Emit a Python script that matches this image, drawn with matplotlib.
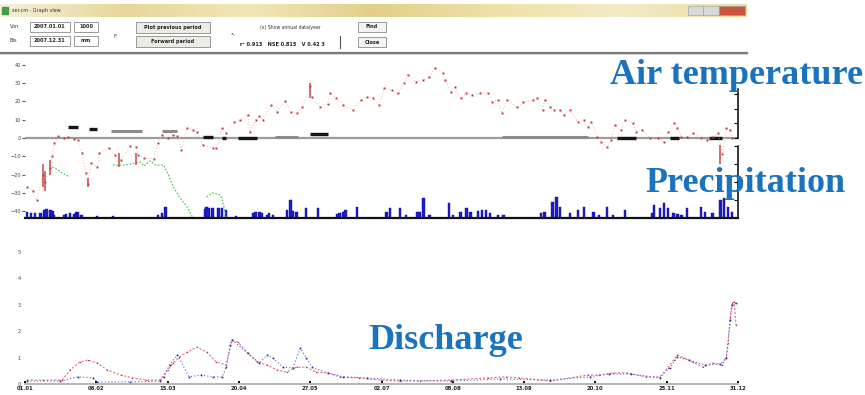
import matplotlib
matplotlib.use("Agg")
import matplotlib.pyplot as plt
import numpy as np
from matplotlib.patches import Rectangle
from matplotlib.colors import LinearSegmentedColormap

nan = np.nan

# air temperature (day of year, degC)
temp_day = [1, 4, 6, 9, 10, 13, 14, 15, 17, 20,
            22, 25, 27, 29, 31, 32, 34, 37, 38, 43,
            46, 49, 54, 57, 58, 61, 66, 68, 70, 73,
            76, 78, 80, 83, 86, 88, 91, 96, 98, 101,
            103, 107, 110, 114, 115, 118, 120, 122, 126, 129,
            133, 136, 139, 142, 146, 147, 151, 155, 156, 159,
            163, 168, 172, 175, 178, 181, 184, 188, 191, 194,
            196, 200, 204, 207, 210, 214, 215, 218, 220, 223,
            226, 229, 233, 237, 239, 242, 244, 247, 252, 255,
            260, 262, 265, 266, 269, 271, 274, 276, 279, 283,
            286, 288, 290, 293, 295, 298, 300, 302, 305, 307,
            311, 313, 316, 320, 324, 327, 329, 332, 334, 336,
            339, 342, 346, 349, 352, 355, 357, 359, 361, 362]
temp_c = [-26.8, -29.0, -33.9, -20.2, -24.0, -16.4, -9.8, -2.7, 1.1, 0.0,
          0.5, -0.5, -1.1, -8.2, -19.1, -25.1, -13.7, -15.8, -8.2, -5.5,
          -9.3, -12.0, -4.4, -4.9, -9.3, -10.9, -11.5, -2.7, 1.6, 0.0,
          1.6, 1.1, -6.6, 5.5, 4.4, 3.3, -3.8, -5.5, -5.5, 5.5,
          2.7, 8.7, 9.8, 12.6, 3.3, 9.8, 12.0, 9.8, 18.0, 14.2,
          20.2, 14.2, 13.7, 16.9, 28.4, 22.4, 16.9, 18.6, 24.6, 21.9,
          18.0, 15.3, 20.8, 22.4, 21.9, 18.0, 27.3, 26.2, 24.6, 30.1,
          34.4, 30.6, 31.7, 33.3, 38.3, 35.5, 31.7, 25.1, 27.9, 21.9,
          24.6, 23.5, 24.6, 24.6, 19.7, 20.8, 13.7, 20.8, 16.9, 19.7,
          20.8, 21.9, 15.3, 20.8, 16.9, 15.3, 15.3, 12.6, 15.3, 8.7,
          9.8, 6.0, 8.7, 0.5, -2.2, -4.9, -1.1, 7.1, 4.4, 9.8,
          8.2, 3.3, 4.4, 0.0, 0.0, -2.2, 3.3, 8.2, 5.5, 0.5,
          0.5, 2.7, 0.0, -1.1, 0.5, 2.7, -8.7, 5.5, 4.4, 0.0]

# daily ranges shown as short red bars in winter
range_day = [9, 10, 13, 32, 48, 57, 146, 356]
range_lo = [-27.0, -29.0, -20.0, -27.0, -16.0, -15.0, 22.0, -14.0]
range_hi = [-14.0, -18.0, -12.0, -22.0, -8.0, -8.0, 30.0, -4.0]

# black / grey segments lying on the temperature panel
dark_start = [22, 33, 91, 101, 109, 146, 303, 330, 350]
dark_end = [27, 37, 96, 103, 119, 155, 313, 335, 357]
dark_level = [6.0, 4.9, 0.5, 0.0, 0.0, 2.2, 0.0, 0.0, 0.0]
light_start = [44, 70, 128, 244]
light_end = [60, 78, 140, 288]
light_level = [3.8, 3.8, 0.5, 0.5]

# precipitation (mm)
prec_day = [1, 3, 5, 8, 10, 11, 13, 14, 15, 20,
            21, 23, 25, 26, 27, 29, 37, 45, 68, 70,
            72, 92, 93, 94, 96, 99, 101, 103, 108, 117,
            118, 120, 121, 124, 125, 127, 134, 136, 137, 139,
            144, 150, 160, 161, 163, 164, 170, 185, 187, 192,
            195, 201, 202, 204, 207, 217, 219, 223, 226, 228,
            232, 234, 236, 238, 242, 245, 264, 266, 270, 272,
            274, 279, 283, 286, 291, 294, 298, 301, 307, 321,
            322, 325, 327, 329, 332, 334, 336, 339, 346, 348,
            352, 356, 358, 360, 362]
prec_mm = [3.5, 2.8, 2.8, 2.8, 4.4, 5.0, 4.4, 3.9, 1.7, 1.7,
           2.2, 2.8, 2.2, 3.3, 3.3, 1.7, 1.1, 1.1, 1.7, 2.8,
           6.1, 5.0, 6.1, 5.6, 5.6, 5.6, 5.6, 4.4, 1.1, 2.8,
           3.3, 3.3, 2.8, 1.7, 2.8, 1.7, 4.4, 10.0, 3.9, 3.3,
           5.6, 5.6, 2.2, 2.8, 3.3, 4.4, 6.1, 3.3, 5.6, 5.6,
           1.7, 3.3, 3.3, 11.1, 1.7, 8.3, 1.7, 3.3, 5.6, 3.3,
           3.9, 4.4, 4.4, 2.8, 1.7, 1.7, 2.8, 3.3, 8.9, 11.7,
           6.1, 2.8, 4.4, 6.1, 3.3, 1.7, 6.1, 1.7, 4.4, 2.8,
           7.2, 5.6, 8.3, 5.6, 2.8, 2.2, 1.7, 5.6, 6.1, 3.3,
           2.8, 10.0, 11.1, 6.1, 3.3]

# snow (green trace), nan = gap
snow_day = [14, 17, 19, 23, 24, 45, 51, 59, 61, 64, 67, 71, 73, 76, 79, 83, 86,
            87, 93, 96, 100, 101, 103]
snow_val = [28.3, 26.7, 25.0, 22.8, nan, 29.4, 29.4, 31.1, 28.9, 31.7, 29.4, 29.4,
            25.0, 17.2, 11.7, 6.1, 0.0, nan, 11.7, 13.9, 12.8, 10.0, 0.6]

# discharge, simulated and observed
q_sim_day = [1, 9, 19, 23, 28, 32, 37, 42, 49, 55,
             62, 69, 73, 76, 79, 83, 88, 93, 98, 103,
             106, 109, 114, 119, 124, 129, 134, 139, 144, 149,
             155, 161, 171, 182, 192, 202, 218, 237, 246, 253,
             269, 288, 294, 301, 308, 318, 325, 329, 332, 334,
             337, 342, 347, 352, 357, 359, 360, 361, 362, 363, 364]
q_sim = [0.15, 0.15, 0.15, 0.53, 0.83, 0.91, 0.80, 0.53, 0.34, 0.23,
         0.15, 0.15, 0.53, 0.80, 1.02, 1.21, 1.40, 1.21, 0.83, 0.72,
         1.67, 1.59, 1.17, 0.83, 0.72, 0.53, 0.45, 0.64, 0.64, 0.45,
         0.42, 0.27, 0.23, 0.15, 0.11, 0.11, 0.15, 0.23, 0.27, 0.23,
         0.11, 0.34, 0.34, 0.42, 0.42, 0.27, 0.27, 0.61, 0.91, 1.10,
         1.00, 0.83, 0.64, 0.80, 0.72, 1.02, 1.55, 2.50, 3.07, 3.11, 2.23]
q_obs_day = [1, 18, 27, 35, 37, 54, 69, 71, 74, 78,
             84, 90, 96, 101, 103, 105, 106, 114, 120, 124,
             127, 132, 137, 141, 144, 147, 155, 163, 175, 192,
             218, 243, 269, 289, 299, 310, 325, 330, 334, 340,
             348, 356, 359, 361, 362, 364]
q_obs = [0.11, 0.11, 0.27, 0.23, 0.08, 0.08, 0.11, 0.27, 0.72, 1.10,
         0.27, 0.34, 0.27, 0.27, 0.64, 1.48, 1.67, 1.17, 0.80, 1.10,
         0.98, 0.64, 0.61, 1.36, 0.98, 0.64, 0.42, 0.27, 0.23, 0.15,
         0.11, 0.19, 0.15, 0.27, 0.38, 0.38, 0.23, 0.61, 1.02, 0.91,
         0.72, 0.76, 0.98, 2.42, 2.99, 3.07]

date_ticks = [0, 36.5, 73, 109.5, 146, 182.5, 219, 255.5, 292, 328.5, 365]
date_labels = ["01.01", "06.02", "15.03", "20.04", "27.05", "02.07",
               "08.08", "13.09", "20.10", "25.11", "31.12"]

W, H = 865, 395
fig = plt.figure(figsize=(W / 100, H / 100), dpi=100)

# window chrome, drawn in pixel coordinates
ui = fig.add_axes([0, 0, 1, 1], zorder=0)
cmap = LinearSegmentedColormap.from_list("bar", ["#f4efd9", "#e8d799", "#f1e6b9", "#e3cf8a",
                                                 "#efe1a8", "#f3ebc6", "#e9dca6"])
ui.imshow(np.linspace(0, 1, 200)[None, :], extent=(0, 747, 17, 4), aspect="auto", cmap=cmap)
ui.add_patch(Rectangle((2, 7), 6, 7, color="#4a9a4a"))
ui.text(12, 10.5, "ser.cm - Graph view", fontsize=3.5, color="#333333", va="center")
ui.add_patch(Rectangle((688, 6), 15, 9, facecolor="#d9d9d9", edgecolor="#9a9a9a", lw=0.4))
ui.add_patch(Rectangle((703, 6), 16, 9, facecolor="#d9d9d9", edgecolor="#9a9a9a", lw=0.4))
ui.add_patch(Rectangle((719, 6), 26, 9, facecolor="#c9553f", edgecolor="#9a9a9a", lw=0.4))

def box(x, y, w, h, txt, face="white", fs=3.6):
    ui.add_patch(Rectangle((x, y), w, h, facecolor=face, edgecolor="#8a8a8a", lw=0.6))
    ui.text(x + w / 2, y + h / 2, txt, fontsize=fs, ha="center", va="center", color="#222222",
            fontweight="bold")

ui.text(10, 27, "Von", fontsize=3.6, color="#333333", va="center")
ui.text(10, 41, "Bis", fontsize=3.6, color="#333333", va="center")
box(30, 22, 40, 10, "2007.01.01")
box(30, 36, 40, 10, "2007.12.31")
box(74, 22, 24, 10, "1000")
box(74, 36, 24, 10, "mm")
ui.text(114, 36, "F:", fontsize=3.6, color="#333333", va="center")
box(136, 22, 74, 11, "Plot previous period", face="#ecebe4")
box(136, 36, 74, 11, "Forward period", face="#ecebe4")
ui.text(290, 27, "(x) Show annual data/year", fontsize=3.3, color="#333333", ha="center", va="center")
ui.text(232, 34, "\u2196", fontsize=3.5, color="#555555", ha="center", va="center")
ui.text(282, 44, "r\u00b2 0.913   NSE 0.815   V 0.42 3", fontsize=3.6, color="#222222",
        ha="center", va="center", fontweight="bold")
ui.plot([340, 340], [36, 48], color="#555555", lw=0.8)
box(358, 22, 28, 10, "Find", face="#f4f4f4")
box(358, 37, 28, 10, "Close", face="#f4f4f4")
ui.plot([0, 747], [52.5, 52.5], color="#7a7a7a", lw=1.6)
ui.plot([0, 747], [54, 54], color="#d0d0d0", lw=0.6)
ui.set_xlim(0, W)
ui.set_ylim(H, 0)
ui.axis("off")

# upper panel: temperature + precipitation
ax_t = fig.add_axes([25 / W, 1 - 218 / H, 713 / W, 156 / H], zorder=2)
ax_t.patch.set_alpha(0)
ax_t.set_xlim(0, 365)
ax_t.set_ylim(-43.7, 41.5)
ax_t.axhline(0, color="#9c9c9c", lw=1.6, zorder=1)
ax_t.plot(temp_day, temp_c, linestyle=(0, (1, 2.5)), lw=0.6, color="#efa0a0",
          marker="s", ms=1.4, mfc="#b73a3a", mec="none", zorder=3)
ax_t.vlines(range_day, range_lo, range_hi, colors="#c24848", lw=1.1, zorder=3)
ax_t.hlines(light_level, light_start, light_end, colors="#8c8c8c", lw=2.2, zorder=2)
ax_t.hlines(dark_level, dark_start, dark_end, colors="#151515", lw=2.4, zorder=2)
ax_t.set_yticks(np.arange(-40, 41, 10))
ax_t.tick_params(axis="y", labelsize=3.6, labelcolor="#444444", length=2, color="#555555", pad=1)
ax_t.tick_params(axis="x", bottom=False, labelbottom=False)
for s in ["top", "left", "right"]:
    ax_t.spines[s].set_visible(False)
ax_t.spines["bottom"].set_color("#111111")
ax_t.spines["bottom"].set_linewidth(1.6)

ax_p = ax_t.twinx()
ax_p.set_zorder(1)
ax_p.set_ylim(0, 86.7)
ax_p.bar(prec_day, prec_mm, width=1.2, color="#1c1cc8", edgecolor="#1010a0", lw=0.3)
ax_p.plot(snow_day, snow_val, linestyle=(0, (1.5, 1.5)), lw=0.8, color="#3cc43c")
ax_p.set_yticks([0, 10, 20, 30, 40])
ax_p.spines["right"].set_bounds(0, 40)
ax_p.tick_params(axis="y", direction="in", length=3, width=0.8, labelright=False)
for s in ["top", "left", "bottom"]:
    ax_p.spines[s].set_visible(False)
ax_p.spines["right"].set_linewidth(1.1)

ax_r = ax_t.twinx()
ax_r.set_ylim(ax_t.get_ylim())
ax_r.set_yticks([0, 8, 16, 24])
ax_r.spines["right"].set_bounds(0, 27)
ax_r.tick_params(axis="y", direction="in", length=3, width=0.8, labelright=False)
for s in ["top", "left", "bottom"]:
    ax_r.spines[s].set_visible(False)
ax_r.spines["right"].set_linewidth(1.1)

# lower panel: discharge
ax_q = fig.add_axes([25 / W, 1 - 384 / H, 713 / W, 139 / H], zorder=2)
ax_q.patch.set_alpha(0)
ax_q.set_xlim(0, 365)
ax_q.set_ylim(0, 5.27)
ax_q.plot(q_sim_day, q_sim, linestyle=(0, (2, 1.5)), lw=0.8, color="#e0708a",
          marker="o", ms=1.0, mfc="#c03050", mec="none")
ax_q.plot(q_obs_day, q_obs, linestyle=(0, (1, 2)), lw=0.8, color="#6060d0",
          marker="s", ms=1.2, mfc="#2a2a90", mec="none")
ax_q.set_yticks(np.arange(0, 6, 1))
ax_q.set_xticks(date_ticks)
ax_q.set_xticklabels(date_labels)
ax_q.tick_params(axis="y", labelsize=3.6, labelcolor="#444444", length=0, pad=3)
ax_q.tick_params(axis="x", labelsize=3.8, labelcolor="#222222", direction="in",
                 length=2.5, width=1.4, color="#111111", pad=1.5)
for lbl in ax_q.get_xticklabels():
    lbl.set_fontweight("bold")
for s in ["top", "left", "right"]:
    ax_q.spines[s].set_visible(False)
ax_q.spines["bottom"].set_color("#b5b5b5")
ax_q.spines["bottom"].set_linewidth(1.4)

# big annotation labels
lab = dict(fontsize=26, fontweight="bold", color="#1b73bd", family=["Liberation Serif", "DejaVu Serif"],
           ha="center", va="baseline", zorder=5)
fig.text(737 / W, 1 - 84 / H, "Air temperature", **lab)
fig.text(745 / W, 1 - 192 / H, "Precipitation", **lab)
fig.text(446 / W, 1 - 349 / H, "Discharge", **lab)

fig.savefig("out.png", dpi=100)
